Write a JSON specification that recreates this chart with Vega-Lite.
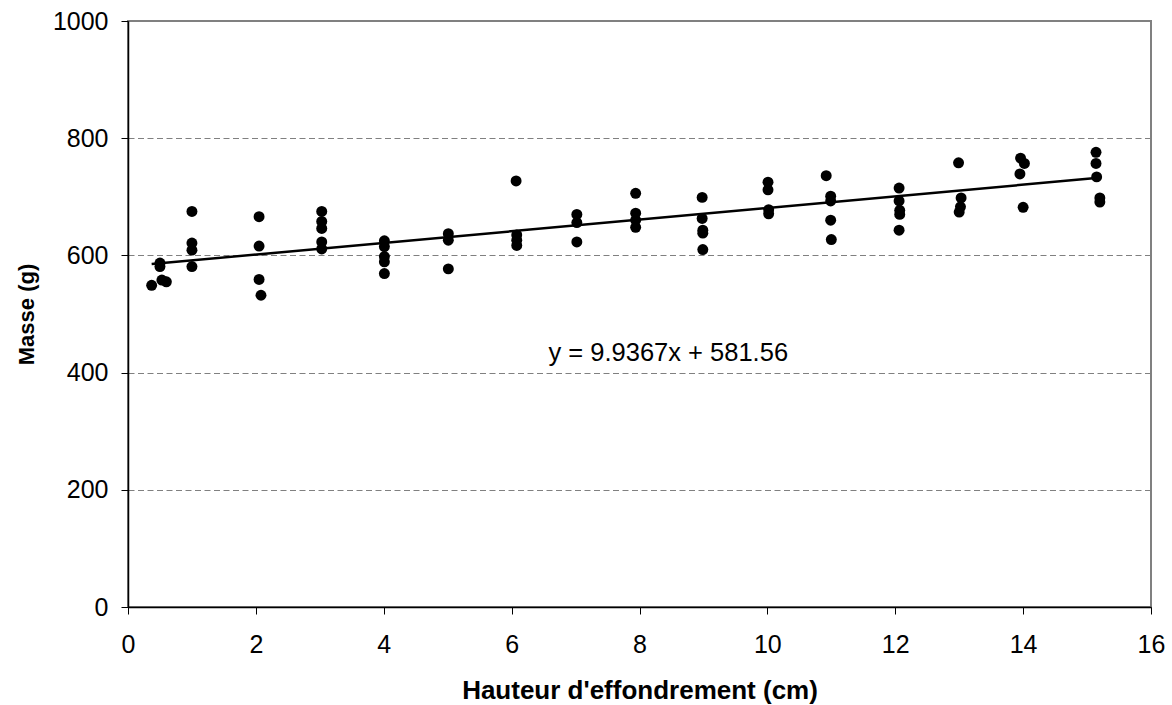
{
  "$schema": "https://vega.github.io/schema/vega-lite/v6.json",
  "width": 1023,
  "height": 586,
  "autosize": {"type": "none"},
  "padding": {"left": 128, "top": 21, "right": 21, "bottom": 98},
  "background": "white",
  "config": {
    "font": "Liberation Sans",
    "view": {"stroke": "#808080", "strokeWidth": 2}
  },
  "datasets": {
    "pts": [
      {"x": 0.37, "y": 549},
      {"x": 0.5, "y": 587}, {"x": 0.5, "y": 581}, {"x": 0.53, "y": 558}, {"x": 0.6, "y": 555},
      {"x": 1.0, "y": 675}, {"x": 1.0, "y": 621}, {"x": 1.0, "y": 609}, {"x": 1.0, "y": 581},
      {"x": 2.05, "y": 666}, {"x": 2.05, "y": 616}, {"x": 2.05, "y": 559}, {"x": 2.08, "y": 532},
      {"x": 3.03, "y": 675}, {"x": 3.03, "y": 658}, {"x": 3.03, "y": 646}, {"x": 3.03, "y": 623}, {"x": 3.03, "y": 611},
      {"x": 4.01, "y": 625}, {"x": 4.01, "y": 615}, {"x": 4.01, "y": 598}, {"x": 4.01, "y": 589}, {"x": 4.01, "y": 569},
      {"x": 5.01, "y": 637}, {"x": 5.01, "y": 626}, {"x": 5.01, "y": 577},
      {"x": 6.07, "y": 727}, {"x": 6.08, "y": 635}, {"x": 6.08, "y": 626}, {"x": 6.08, "y": 617},
      {"x": 7.02, "y": 670}, {"x": 7.02, "y": 656}, {"x": 7.02, "y": 623},
      {"x": 7.94, "y": 706}, {"x": 7.94, "y": 672}, {"x": 7.94, "y": 660}, {"x": 7.94, "y": 648},
      {"x": 8.98, "y": 699}, {"x": 8.98, "y": 663}, {"x": 8.99, "y": 643}, {"x": 8.99, "y": 638}, {"x": 8.99, "y": 610},
      {"x": 10.01, "y": 725}, {"x": 10.01, "y": 712}, {"x": 10.02, "y": 678}, {"x": 10.02, "y": 671},
      {"x": 10.92, "y": 736}, {"x": 10.99, "y": 701}, {"x": 10.99, "y": 693}, {"x": 10.99, "y": 660}, {"x": 11.0, "y": 627},
      {"x": 12.06, "y": 715}, {"x": 12.06, "y": 693}, {"x": 12.07, "y": 677}, {"x": 12.07, "y": 670}, {"x": 12.06, "y": 643},
      {"x": 12.99, "y": 758}, {"x": 13.03, "y": 698}, {"x": 13.02, "y": 683}, {"x": 13.0, "y": 674},
      {"x": 13.96, "y": 766}, {"x": 14.02, "y": 757}, {"x": 13.95, "y": 739}, {"x": 14.0, "y": 682},
      {"x": 15.14, "y": 776}, {"x": 15.14, "y": 757}, {"x": 15.15, "y": 734}, {"x": 15.2, "y": 698}, {"x": 15.2, "y": 691}
    ],
    "trend": [
      {"x": 0.37, "y": 585.2},
      {"x": 15.14, "y": 732.0}
    ],
    "eq": [
      {"x": 8.45, "y": 433, "label": "y = 9.9367x + 581.56"}
    ]
  },
  "layer": [
    {
      "data": {"name": "pts"},
      "mark": {"type": "circle", "size": 120, "color": "black", "opacity": 1},
      "encoding": {
        "x": {
          "field": "x", "type": "quantitative",
          "scale": {"domain": [0, 16], "nice": false, "zero": false},
          "axis": {
            "title": "Hauteur d'effondrement (cm)",
            "values": [0, 2, 4, 6, 8, 10, 12, 14, 16],
            "format": "d",
            "labelFlush": false,
            "grid": false,
            "domainColor": "black", "domainWidth": 1.5,
            "tickColor": "black", "tickSize": 7, "tickWidth": 1,
            "labelFontSize": 25, "labelColor": "black", "labelPadding": 18,
            "labelFont": "Liberation Sans",
            "titleFontSize": 26, "titleFontWeight": "bold", "titleColor": "black",
            "titleFont": "Liberation Sans",
            "titleBaseline": "alphabetic", "titleY": 91
          }
        },
        "y": {
          "field": "y", "type": "quantitative",
          "scale": {"domain": [0, 1000], "nice": false, "zero": true},
          "axis": {
            "title": "Masse (g)",
            "values": [0, 200, 400, 600, 800, 1000],
            "format": "d",
            "labelFlush": false,
            "grid": true, "gridColor": "#808080", "gridDash": [6, 3.5], "gridWidth": 1,
            "domainColor": "black", "domainWidth": 1.5,
            "tickColor": "black", "tickSize": 7, "tickWidth": 1,
            "labelFontSize": 25, "labelColor": "black", "labelPadding": 13,
            "labelFont": "Liberation Sans",
            "titleFontSize": 22, "titleFontWeight": "bold", "titleColor": "black",
            "titleFont": "Liberation Sans",
            "titleBaseline": "alphabetic", "titleX": -95, "titleY": 293, "titleAlign": "center", "titleAngle": -90
          }
        }
      }
    },
    {
      "data": {"name": "trend"},
      "mark": {"type": "line", "color": "black", "strokeWidth": 2.5},
      "encoding": {
        "x": {"field": "x", "type": "quantitative"},
        "y": {"field": "y", "type": "quantitative"}
      }
    },
    {
      "data": {"name": "eq"},
      "mark": {"type": "text", "fontSize": 25.5, "color": "black", "align": "center", "baseline": "middle", "font": "Liberation Sans"},
      "encoding": {
        "x": {"field": "x", "type": "quantitative"},
        "y": {"field": "y", "type": "quantitative"},
        "text": {"field": "label"}
      }
    }
  ]
}
